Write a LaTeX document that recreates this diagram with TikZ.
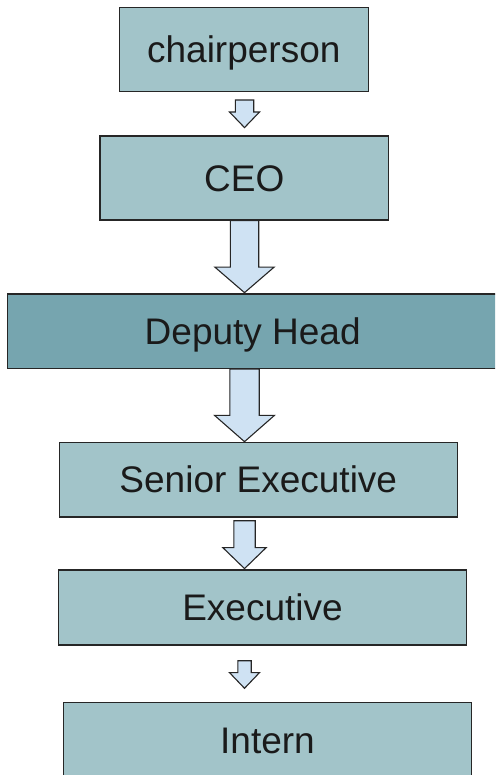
\documentclass[tikz,border=0pt]{standalone}
\usepackage{fontspec}
\setmainfont{Liberation Sans}
\usetikzlibrary{calc}
\definecolor{boxfill}{HTML}{A2C4C9}
\definecolor{boxdark}{HTML}{76A5AF}
\definecolor{arrowfill}{HTML}{CFE2F3}
\definecolor{edge}{HTML}{262626}
\definecolor{ink}{HTML}{1A1A1A}

% block arrow from the box #1 down to the box #2:
% #3 gap below #1, #4 gap above #2, #5 half shaft width, #6 half head width, #7 head length
\newcommand\blockarrow[7]{%
  \draw[arrowbody]
    ($(spine |- #1.south)+(-#5,#3)$) --
    ($(spine |- #1.south)+(#5,#3)$) --
    ($(spine |- #2.north)+(#5,-#4-#7)$) --
    ($(spine |- #2.north)+(#6,-#4-#7)$) --
    ($(spine |- #2.north)+(0,-#4)$) --
    ($(spine |- #2.north)+(-#6,-#4-#7)$) --
    ($(spine |- #2.north)+(-#5,-#4-#7)$) -- cycle;}

\begin{document}
\begin{tikzpicture}[x=1pt,y=-1pt,
  rolebox/.style={draw=edge, line width=1.4pt, fill=boxfill, inner sep=0pt,
    text=ink, font=\fontsize{37pt}{44pt}\selectfont,
    text height=26.5pt, text depth=0pt},
  arrowbody/.style={draw=edge, line width=1.1pt, fill=arrowfill, line join=miter}]
  \useasboundingbox (0,0) rectangle (495,775);
  \fill[white] (0,0) rectangle (495,775);
  \clip (0,0) rectangle (495,775);

  \coordinate (spine) at (244.5,0);

  \node[rolebox, minimum width=249pt, minimum height=84.4pt] (chair) at (243.8,49.5) {chairperson};
  \node[rolebox, minimum width=288.7pt, minimum height=84pt] (ceo) at (244.3,178) {CEO};
  \node[rolebox, fill=boxdark, minimum width=490.7pt, minimum height=74.3pt] (deputy) at (252.7,331.2) {Deputy Head};
  \node[rolebox, minimum width=398pt, minimum height=74.7pt] (senior) at (258.3,479.7) {Senior Executive};
  \node[rolebox, minimum width=408.4pt, minimum height=75pt] (exec) at (262.5,607.5) {Executive};
  \node[rolebox, minimum width=408.4pt, minimum height=75.4pt] (intern) at (267.5,740) {Intern};

  \blockarrow{chair}{ceo}{7.6}{7.7}{9.2}{15}{15.6}
  \blockarrow{ceo}{deputy}{0}{0.7}{14.2}{29.7}{25.6}
  \blockarrow{deputy}{senior}{0}{0}{14.7}{30}{26.3}
  \blockarrow{senior}{exec}{3}{0.7}{10.7}{21.7}{21}
  \blockarrow{exec}{intern}{15}{13.3}{6.7}{15}{15.7}
\end{tikzpicture}
\end{document}
